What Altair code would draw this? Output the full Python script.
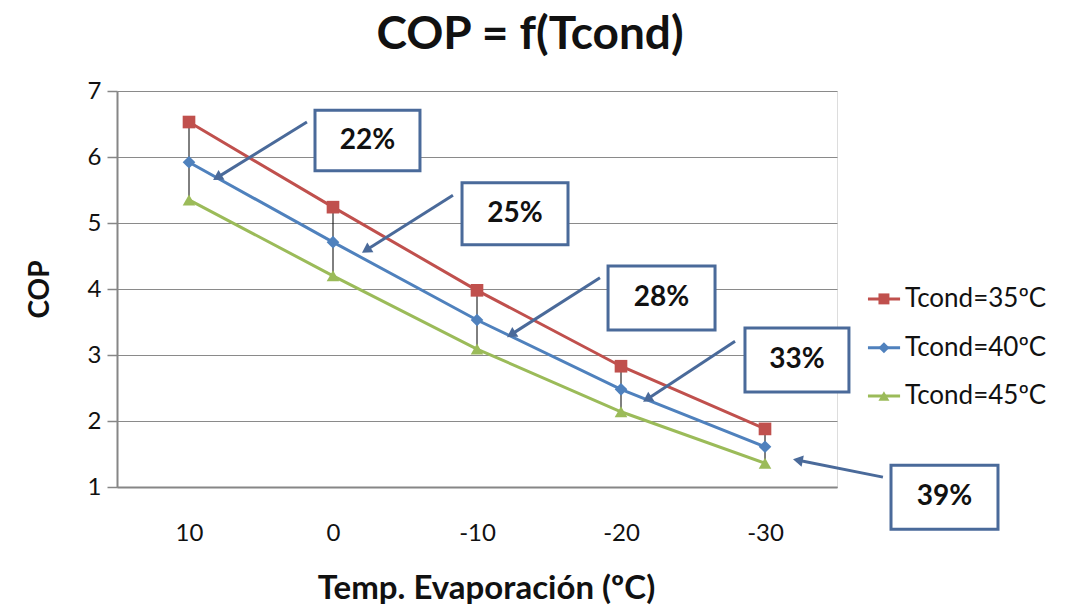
import math
import altair as alt
import pandas as pd

# ---------------- data ----------------
temps = [10, 0, -10, -20, -30]
cop_35 = [6.53, 5.24, 3.98, 2.83, 1.88]
cop_40 = [5.92, 4.71, 3.53, 2.48, 1.61]
cop_45 = [5.35, 4.20, 3.09, 2.14, 1.36]
series_names = ["Tcond=35ºC", "Tcond=40ºC", "Tcond=45ºC"]
pct_labels = ["22%", "25%", "28%", "33%", "39%"]

# ---------------- annotation layout (data units) ----------------
box_x1 = [1.25, -8.96, -19.10, -28.61, -38.75]
box_x2 = [-6.04, -16.32, -26.53, -35.83, -46.18]
box_y1 = [6.71, 5.61, 4.35, 3.41, 1.33]
box_y2 = [5.79, 4.67, 3.38, 2.44, 0.36]
arr_x1 = [1.81, -8.33, -18.54, -27.92, -38.19]
arr_y1 = [6.53, 5.42, 4.17, 3.21, 1.15]
arr_x2 = [8.33, -2.01, -12.08, -21.53, -31.94]
arr_y2 = [5.65, 4.55, 3.27, 2.29, 1.42]

leg_y = [3.85, 3.11, 2.38]
leg_line_x = (-37.15, -39.38)
leg_mark_x = -38.26
leg_text_x = -39.72

COLORS = ["#C0504D", "#4F81BD", "#9BBB59"]
SHAPES = ["square", "diamond", "triangle-up"]
ARROW = "#4A6A9A"
FONT = "Lato"

W, H = 720, 396
XDOM = [15, -35]
YDOM = [1, 7]
px_x = W / (XDOM[0] - XDOM[1])
px_y = H / (YDOM[1] - YDOM[0])

rows = []
for name, vals in zip(series_names, [cop_35, cop_40, cop_45]):
    for t, v in zip(temps, vals):
        rows.append({"serie": name, "temp": t, "cop": v})
df = pd.DataFrame(rows)

drop = pd.DataFrame({"temp": temps, "top": cop_35, "bot": cop_45})

# arrows: shaft + head
arrows = []
for i in range(len(pct_labels)):
    dxp = (arr_x2[i] - arr_x1[i]) * -px_x
    dyp = (arr_y2[i] - arr_y1[i]) * -px_y
    L = math.hypot(dxp, dyp)
    ang = math.degrees(math.atan2(dxp, -dyp)) % 360
    back = 5.0 / L
    hx = arr_x2[i] - (arr_x2[i] - arr_x1[i]) * back
    hy = arr_y2[i] - (arr_y2[i] - arr_y1[i]) * back
    back2 = 8.0 / L
    ex = arr_x2[i] - (arr_x2[i] - arr_x1[i]) * back2
    ey = arr_y2[i] - (arr_y2[i] - arr_y1[i]) * back2
    arrows.append({"x1": arr_x1[i], "y1": arr_y1[i], "x2": ex, "y2": ey,
                   "hx": hx, "hy": hy, "ang": ang})
arr_df = pd.DataFrame(arrows)

boxes = pd.DataFrame({"x1": box_x1, "x2": box_x2, "y1": box_y1, "y2": box_y2,
                      "label": pct_labels,
                      "cx": [(a + b) / 2 for a, b in zip(box_x1, box_x2)],
                      "cy": [(a + b) / 2 for a, b in zip(box_y1, box_y2)]})

leg = pd.DataFrame({"serie": series_names, "y": leg_y,
                    "lx1": [leg_line_x[0]] * 3, "lx2": [leg_line_x[1]] * 3,
                    "mx": [leg_mark_x] * 3, "tx": [leg_text_x] * 3})

xs = alt.Scale(domain=XDOM, nice=False, zero=False)
ys = alt.Scale(domain=YDOM, nice=False, zero=False)
cs = alt.Scale(domain=series_names, range=COLORS)
ss = alt.Scale(domain=series_names, range=SHAPES)

x_axis = alt.Axis(values=temps, grid=False, ticks=False, domainColor="#868686",
                  domainWidth=2, labelFontSize=24, labelFont=FONT, labelColor="#111",
                  labelPadding=34, labelExpr="'' + datum.value",
                  title="Temp. Evaporación (ºC)", titleFont=FONT, titleFontSize=33,
                  titleFontWeight="bold", titleColor="#111", titlePadding=27,
                  titleX=369, titleAlign="center")
y_axis = alt.Axis(values=[1, 2, 3, 4, 5, 6, 7], format="d", grid=True, gridColor="#8a8a8a",
                  gridWidth=1.2, domainColor="#868686", domainWidth=2,
                  tickColor="#868686", tickSize=10, tickWidth=1.5,
                  labelFontSize=24, labelFont=FONT, labelColor="#111", labelPadding=6,
                  title="COP", titleFont=FONT, titleFontSize=28,
                  titleFontWeight="bold", titleColor="#111", titlePadding=33)

base = alt.Chart(df)

lines = base.mark_line(strokeWidth=3).encode(
    x=alt.X("temp:Q", scale=xs, axis=x_axis),
    y=alt.Y("cop:Q", scale=ys, axis=y_axis),
    color=alt.Color("serie:N", scale=cs, legend=None),
)
points = base.mark_point(filled=True, opacity=1, size=160).encode(
    x=alt.X("temp:Q", scale=xs),
    y=alt.Y("cop:Q", scale=ys),
    color=alt.Color("serie:N", scale=cs, legend=None),
    shape=alt.Shape("serie:N", scale=ss, legend=None),
)
drops = alt.Chart(drop).mark_rule(color="black", strokeWidth=1).encode(
    x="temp:Q", y="top:Q", y2="bot:Q")

shafts = alt.Chart(arr_df).mark_rule(color=ARROW, strokeWidth=3).encode(
    x="x1:Q", y="y1:Q", x2="x2:Q", y2="y2:Q")
heads = alt.Chart(arr_df).mark_point(shape="triangle-up", filled=True, color=ARROW,
                                     opacity=1, size=130).encode(
    x="hx:Q", y="hy:Q", angle=alt.Angle("ang:Q", scale=None))

rects = alt.Chart(boxes).mark_rect(fill="white", stroke="#4A6A9A", strokeWidth=3).encode(
    x="x1:Q", x2="x2:Q", y="y1:Q", y2="y2:Q")
texts = alt.Chart(boxes).mark_text(font=FONT, fontSize=28, fontWeight="bold",
                                   color="#111", baseline="middle", align="center").encode(
    x="cx:Q", y="cy:Q", text="label:N")

leg_lines = alt.Chart(leg).mark_rule(strokeWidth=3).encode(
    x="lx1:Q", x2="lx2:Q", y="y:Q",
    color=alt.Color("serie:N", scale=cs, legend=None))
leg_pts = alt.Chart(leg).mark_point(filled=True, opacity=1, size=120).encode(
    x="mx:Q", y="y:Q",
    color=alt.Color("serie:N", scale=cs, legend=None),
    shape=alt.Shape("serie:N", scale=ss, legend=None))
leg_txt = alt.Chart(leg).mark_text(font=FONT, fontSize=26, color="#111",
                                   align="left", baseline="middle").encode(
    x="tx:Q", y="y:Q", text="serie:N")

chart = alt.layer(
    lines, drops, points, shafts, heads, rects, texts, leg_lines, leg_pts, leg_txt
).properties(
    width=W, height=H,
    title=alt.TitleParams("COP = f(Tcond)", font=FONT, fontSize=46, fontWeight="bold",
                          color="#111", anchor="middle", dx=53, offset=20),
    autosize=alt.AutoSizeParams(type="none"),
    padding={"left": 117, "top": 91, "right": 242, "bottom": 120},
).configure_view(stroke=None).configure(background="white")

chart.save("out.html", embed_options={"renderer": "svg", "actions": False})
